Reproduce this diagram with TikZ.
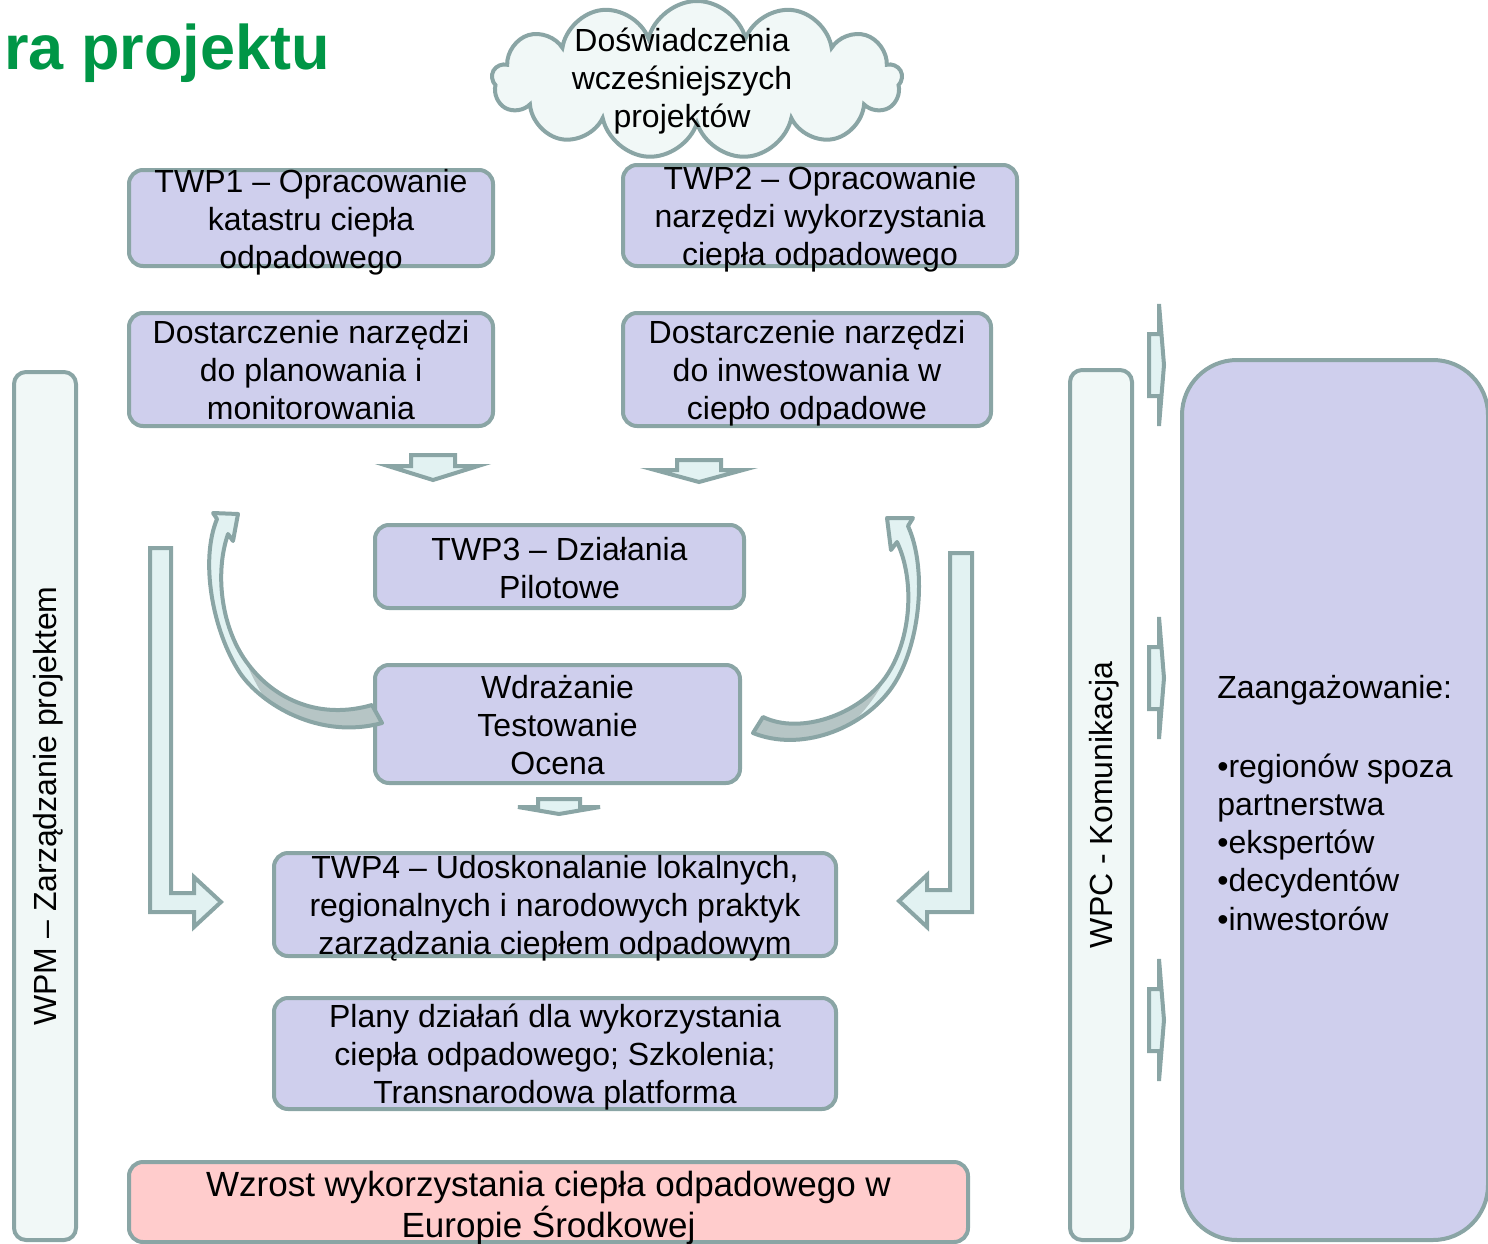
\documentclass[tikz,border=0pt]{standalone}
\usepackage{fontspec}
\setmainfont{Liberation Sans}
\usetikzlibrary{shapes.symbols, positioning}
\definecolor{rama}{RGB}{138,165,165}
\definecolor{lawenda}{RGB}{207,207,237}
\definecolor{blekit}{RGB}{226,242,242}
\definecolor{jasny}{RGB}{241,248,247}
\definecolor{szary}{RGB}{182,197,197}
\definecolor{roz}{RGB}{255,204,204}
\definecolor{zielony}{RGB}{0,150,70}
\newcommand{\tekst}{\fontsize{32}{38}\selectfont}
\tikzstyle{wpbox}     = [rectangle, rounded corners=14pt, draw=rama, line width=4pt,
                         fill=lawenda, align=center, inner sep=0pt, font=\tekst]
\tikzstyle{wpbar}     = [rectangle, rounded corners=12pt, draw=rama, line width=4pt,
                         fill=jasny, inner sep=0pt, font=\tekst, rotate=90,
                         text height=22pt, text depth=0pt]
\tikzstyle{trzywiersze} = [text height=100pt, text depth=0pt]
\tikzstyle{dwawiersze}  = [text height=64pt, text depth=0pt]
\tikzstyle{chmura}    = [cloud, cloud puffs=13, aspect=2.6, draw=rama, line width=4pt,
                         fill=jasny, minimum width=410pt, minimum height=158pt, inner sep=0pt]
\tikzstyle{blockarr}  = [draw=rama, line width=4pt, fill=blekit, line join=miter]
\tikzstyle{curvedarr} = [draw=rama, line width=4pt, line join=round]

\begin{document}
\begin{tikzpicture}[x=1pt, y=-1pt]
  \useasboundingbox (0,0) rectangle (1488,1244);

  \node (tytul) [anchor=base west, text=zielony, inner sep=0pt,
                 font=\fontsize{63}{70}\selectfont\bfseries] at (4,70) {ra projektu};

  \node (chmura) [chmura] at (697,80) {};
  \node (dosw) [align=center, font=\tekst, inner sep=0pt, trzywiersze] at (682,78)
        {Doświadczenia\\wcześniejszych\\projektów};

  \node (twp1)  [wpbox, trzywiersze, inner ysep=-2pt, minimum width=364pt, minimum height=96pt] at (311,218)
        {TWP1 – Opracowanie\\katastru ciepła\\odpadowego};
  \node (dost1) [wpbox, trzywiersze, minimum width=364pt, minimum height=113pt, below=43pt of twp1]
        {Dostarczenie narzędzi\\do planowania i\\monitorowania};
  \node (twp2)  [wpbox, trzywiersze, minimum width=394pt, minimum height=101pt] at (820,215.5)
        {TWP2 – Opracowanie\\narzędzi wykorzystania\\ciepła odpadowego};
  \node (dost2) [wpbox, trzywiersze, minimum width=368pt, minimum height=113pt] at (807,369.5)
        {Dostarczenie narzędzi\\do inwestowania w\\ciepło odpadowe};
  \node (twp3)  [wpbox, dwawiersze, minimum width=369pt, minimum height=83pt] at (559.5,566.5)
        {TWP3 – Działania\\Pilotowe};
  \node (wdr)   [wpbox, trzywiersze, minimum width=365pt, minimum height=118pt] at (557.5,724)
        {Wdrażanie\\Testowanie\\Ocena};
  \node (twp4)  [wpbox, trzywiersze, minimum width=562pt, minimum height=103pt] at (555,904.5)
        {TWP4 – Udoskonalanie lokalnych,\\regionalnych i narodowych praktyk\\zarządzania ciepłem odpadowym};
  \node (plany) [wpbox, trzywiersze, minimum width=562pt, minimum height=111pt, below=38pt of twp4]
        {Plany działań dla wykorzystania\\ciepła odpadowego; Szkolenia;\\Transnarodowa platforma};
  \node (wzrost) [wpbox, fill=roz, minimum width=839pt, minimum height=80pt,
                  text height=71pt, text depth=0pt,
                  font=\fontsize{35}{41}\selectfont] at (548.5,1202)
        {Wzrost wykorzystania ciepła odpadowego w\\Europie Środkowej};

  % Work packages at the sides
  \node (wpm) [wpbar, minimum width=868pt, minimum height=62pt] at (45,806) {WPM – Zarządzanie projektem};
  \node (wpc) [wpbar, minimum width=870pt, minimum height=62pt] at (1101,805) {WPC - Komunikacja};
  \node (zaang) [rectangle, rounded corners=55pt, draw=rama, line width=4pt, fill=lawenda,
                 minimum width=306pt, minimum height=880pt, align=left, inner sep=0pt,
                 text height=260pt, text depth=0pt,
                 font=\fontsize{32}{38.25}\selectfont] at (1335,800)
        {Zaangażowanie:\\[40pt]•regionów spoza\\partnerstwa\\•ekspertów\\•decydentów\\•inwestorów};

  % Block arrows
  \draw [blockarr] (411,455) -- (455,455) -- (455,466) -- (478,466) -- (433,480) -- (388,466) -- (411,466) -- cycle;
  \draw [blockarr] (677,460) -- (721,460) -- (721,470) -- (743,470) -- (699,482) -- (655,470) -- (677,470) -- cycle;
  \draw [blockarr] (538,799) -- (580,799) -- (580,807) -- (600,807) -- (559,814) -- (518,807) -- (538,807) -- cycle;
  \draw [blockarr] (150,548) -- (171,548) -- (171,893) -- (194,893) -- (194,877) -- (221,902)
                   -- (194,927) -- (194,912) -- (150,912) -- cycle;
  \draw [blockarr] (972,553) -- (950,553) -- (950,890) -- (927,890) -- (927,875) -- (899,901)
                   -- (927,927) -- (927,912) -- (972,912) -- cycle;
  \foreach \c in {365,678,1020}
    \draw [blockarr] (1149,\c-31) -- (1159,\c-31) -- (1159,\c-61) -- (1164,\c) -- (1159,\c+61)
                     -- (1159,\c+31) -- (1149,\c+31) -- cycle;

  % Feedback loops
  \begin{scope}
    \clip (372,705) -- (382,723) .. controls (320,740) and (262,705) .. (240,673)
          .. controls (212,630) and (200,560) .. (217,519) -- (213,513) -- (238,514) -- (233,541)
          -- (228,534) .. controls (214,575) and (222,630) .. (248,664)
          .. controls (275,700) and (320,720) .. (372,705) -- cycle;
    \fill [blekit] (190,500) rectangle (400,760);
    \fill [szary] (400,690) -- (400,750) -- (285,750) -- (285,725)
          .. controls (262,700) and (240,660) .. (226,600) -- (260,600) -- (330,690) -- cycle;
  \end{scope}
  \draw [curvedarr] (372,705) -- (382,723) .. controls (320,740) and (262,705) .. (240,673)
        .. controls (212,630) and (200,560) .. (217,519) -- (213,513) -- (238,514) -- (233,541)
        -- (228,534) .. controls (214,575) and (222,630) .. (248,664)
        .. controls (275,700) and (320,720) .. (372,705) -- cycle;

  \begin{scope}
    \clip (763,717) -- (753,733) .. controls (800,752) and (860,730) .. (890,690)
          .. controls (920,650) and (928,570) .. (908,526) -- (913,518) -- (887,518) -- (891,550)
          -- (897,542) .. controls (915,580) and (912,640) .. (885,678)
          .. controls (858,715) and (800,735) .. (763,717) -- cycle;
    \fill [blekit] (740,500) rectangle (940,760);
    \fill [szary] (740,700) -- (740,760) -- (825,760) -- (825,742)
          .. controls (860,725) and (895,680) .. (910,610) -- (880,610) -- (800,700) -- cycle;
  \end{scope}
  \draw [curvedarr] (763,717) -- (753,733) .. controls (800,752) and (860,730) .. (890,690)
        .. controls (920,650) and (928,570) .. (908,526) -- (913,518) -- (887,518) -- (891,550)
        -- (897,542) .. controls (915,580) and (912,640) .. (885,678)
        .. controls (858,715) and (800,735) .. (763,717) -- cycle;
\end{tikzpicture}
\end{document}
